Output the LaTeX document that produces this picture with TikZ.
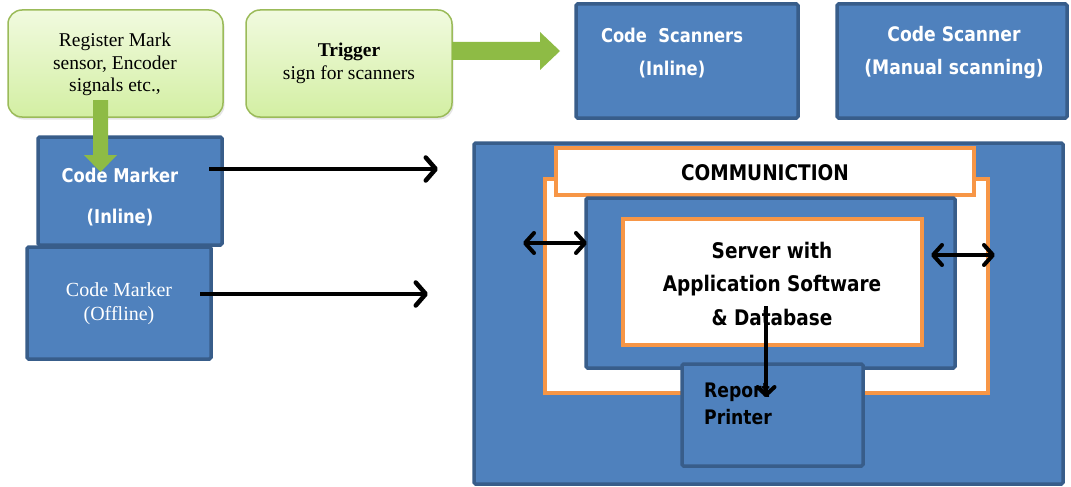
\documentclass[tikz,border=0pt]{standalone}
\usepackage{fontspec}
\setmainfont{Liberation Serif}
\newfontfamily\tah[FakeStretch=0.86]{DejaVu Sans}
\usetikzlibrary{arrows.meta,shadows}
\definecolor{bfill}{HTML}{4F81BD}
\definecolor{bborder}{HTML}{385D8A}
\definecolor{orng}{HTML}{F79646}
\definecolor{gtop}{HTML}{F1FADF}
\definecolor{gbot}{HTML}{D3EFA3}
\definecolor{gborder}{HTML}{9BBB59}
\definecolor{garrow}{HTML}{8EBB45}
\begin{document}
\begin{tikzpicture}[x=1pt,y=-1pt,
  greenbox/.style={draw=gborder, line width=1.5pt, rounded corners=14pt, top color=gtop, bottom color=gbot,
    drop shadow={opacity=0.2, shadow xshift=1.5pt, shadow yshift=-2.5pt}, inner sep=0pt},
  bluebox/.style={draw=bborder, fill=bfill, line width=3.5pt, rounded corners=1.5pt, inner sep=0pt},
  orangebox/.style={draw=orng, fill=white, line width=4pt, inner sep=0pt},
  bt/.style={text=white, font=\tah\bfseries\fontsize{19}{33}\selectfont, align=center, inner sep=0pt},
  st/.style={font=\fontsize{19.5}{22.5}\selectfont, align=center, inner sep=0pt},
  dt/.style={text=black, font=\tah\bfseries\fontsize{21.5}{33.5}\selectfont, align=center, inner sep=0pt},
  garr/.style={fill=garrow},
  conn/.style={line width=4.5pt, -{Straight Barb[length=10pt,width=23pt,round]}},
  dconn/.style={line width=4pt, {Straight Barb[length=9pt,width=20pt,round]}-{Straight Barb[length=9pt,width=20pt,round]}},
  vconn/.style={line width=4pt, -{Straight Barb[length=8pt,width=17pt,round]}}
]
\useasboundingbox (0,0) rectangle (1071,487);
\fill[white] (0,0) rectangle (1071,487);

% green source boxes
\node[greenbox, minimum width=215pt, minimum height=107pt] (reg) at (115.5,63.5) {};
\node[st] (regt) at (115,64.5) {Register Mark\\sensor, Encoder\\signals etc.,};
\node[greenbox, minimum width=206pt, minimum height=107pt] (trig) at (349,63.5) {};
\node[st, font=\fontsize{19.5}{23}\selectfont] (trigt) at (349,63.5) {\textbf{Trigger}\\sign for scanners};

% scanners
\node[bluebox, minimum width=222pt, minimum height=114pt] (scan1) at (687,61) {};
\node[bt] (scan1t) at (672,53.5) {Code\ \ Scanners\\(Inline)};
\node[bluebox, minimum width=230pt, minimum height=114pt] (scan2) at (952,61) {};
\node[bt, font=\tah\bfseries\fontsize{20}{33}\selectfont] (scan2t) at (954,52.5) {Code Scanner\\(Manual scanning)};

% code markers
\node[bluebox, minimum width=184pt, minimum height=108pt] (cmin) at (130,191) {};
\node[bt, font=\tah\bfseries\fontsize{19}{41}\selectfont] (cmint) at (120,197.5) {Code Marker\\(Inline)};
\node[bluebox, minimum width=184pt, minimum height=112pt] (cmoff) at (119,303) {};
\node[st, text=white, font=\fontsize{20}{24}\selectfont] (cmofft) at (119,304) {Code Marker\\(Offline)};

% central system
\node[bluebox, minimum width=589pt, minimum height=341pt] (big) at (768.5,313.5) {};
\node[orangebox, minimum width=443pt, minimum height=214pt] (outer) at (766.5,286) {};
\node[orangebox, minimum width=418pt, minimum height=47pt] (comm) at (765,171.5) {};
\node[dt, font=\tah\bfseries\fontsize{21.5}{24}\selectfont] (commt) at (765,173) {COMMUNICTION};
\node[bluebox, minimum width=369pt, minimum height=170pt] (inner) at (770.5,283) {};
\node[orangebox, minimum width=299pt, minimum height=126pt] (server) at (772.5,282) {};
\node[dt] (servert) at (772,283.5) {Server with\\Application Software\\\& Database};
\node[bluebox, minimum width=181pt, minimum height=102pt] (printer) at (772.5,415) {};
\node[dt, anchor=west, align=left, font=\tah\bfseries\fontsize{20}{27}\selectfont] (printert) at (704,403.5) {Report\\Printer};

% green arrows
\coordinate (ta) at (452,51);
\fill[garr, shift={(ta)}] (0,-9) -- (88,-9) -- (88,-19) -- (108,0) -- (88,19) -- (88,9) -- (0,9) -- cycle;
\coordinate (ga) at (100.5,100);
\fill[garr, shift={(ga)}] (-7.5,0) -- (7.5,0) -- (7.5,55) -- (16.5,55) -- (0,72) -- (-16.5,55) -- (-7.5,55) -- cycle;

% black connectors
\coordinate (a1s) at (209,169); \coordinate (a1e) at (438,169);
\draw[conn] (a1s) -- (a1e);
\coordinate (a2s) at (200,294); \coordinate (a2e) at (428,294);
\draw[conn] (a2s) -- (a2e);
\coordinate (d1s) at (523,243); \coordinate (d1e) at (587,243);
\draw[dconn] (d1s) -- (d1e);
\coordinate (d2s) at (931,255); \coordinate (d2e) at (995,255);
\draw[dconn] (d2s) -- (d2e);
\coordinate (vs) at (766,306); \coordinate (ve) at (766,397);
\draw[vconn] (vs) -- (ve);
\end{tikzpicture}
\end{document}
